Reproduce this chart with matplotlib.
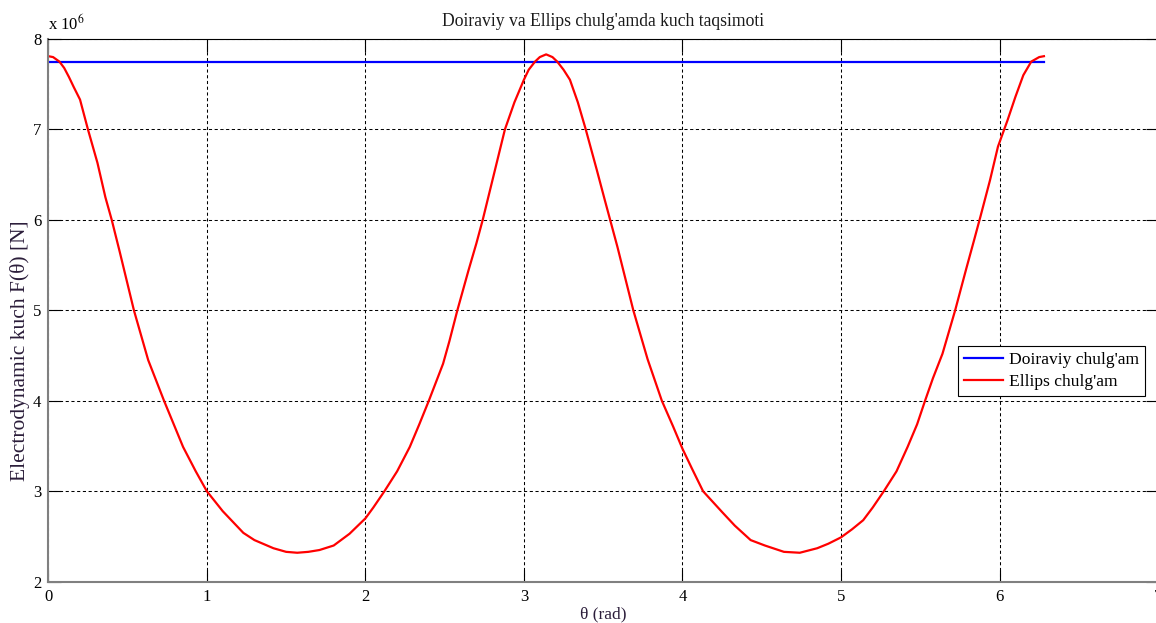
import numpy as np
import matplotlib
matplotlib.use('Agg')
import matplotlib.pyplot as plt

plt.rcParams['font.family'] = ['Liberation Serif', 'DejaVu Serif']
plt.rcParams['mathtext.fontset'] = 'stix'

# ellips chulg'am (x10^6 N)
theta_ell = [0.00, 0.03, 0.07, 0.10, 0.13, 0.16, 0.20, 0.25, 0.31, 0.36, 0.40, 0.45,
             0.54, 0.63, 0.73, 0.85, 0.93, 1.00, 1.10, 1.23, 1.30, 1.42, 1.50, 1.57,
             1.64, 1.71, 1.80, 1.90, 2.00, 2.05, 2.12, 2.20, 2.28, 2.34, 2.40, 2.49,
             2.53, 2.58, 2.65, 2.70, 2.74, 2.81, 2.88, 2.94, 3.00, 3.03, 3.07, 3.10,
             3.14, 3.18, 3.21, 3.25, 3.29, 3.34, 3.39, 3.46, 3.51, 3.59, 3.64, 3.69,
             3.78, 3.87, 3.94, 4.00, 4.06, 4.13, 4.25, 4.33, 4.43, 4.52, 4.64, 4.74,
             4.85, 4.92, 5.00, 5.07, 5.14, 5.20, 5.27, 5.35, 5.42, 5.48, 5.53, 5.58,
             5.64, 5.68, 5.72, 5.79, 5.84, 5.88, 5.94, 5.99, 6.05, 6.10, 6.15, 6.20,
             6.25, 6.28]
F_ell = [7.81, 7.80, 7.75, 7.68, 7.58, 7.47, 7.33, 7.00, 6.63, 6.25, 6.00, 5.65,
         5.00, 4.45, 4.00, 3.49, 3.22, 3.00, 2.78, 2.54, 2.46, 2.37, 2.33, 2.32,
         2.33, 2.35, 2.40, 2.53, 2.70, 2.82, 3.00, 3.22, 3.49, 3.74, 4.00, 4.41,
         4.66, 5.00, 5.44, 5.74, 6.00, 6.50, 7.00, 7.30, 7.55, 7.66, 7.75, 7.80,
         7.83, 7.80, 7.75, 7.66, 7.55, 7.30, 7.00, 6.55, 6.22, 5.70, 5.35, 5.00,
         4.46, 4.00, 3.72, 3.47, 3.25, 3.00, 2.77, 2.62, 2.46, 2.40, 2.33, 2.32,
         2.37, 2.42, 2.49, 2.58, 2.68, 2.82, 3.00, 3.22, 3.49, 3.74, 4.00, 4.25,
         4.52, 4.76, 5.00, 5.46, 5.78, 6.04, 6.44, 6.81, 7.10, 7.36, 7.60, 7.75,
         7.80, 7.81]

# doiraviy chulg'am - constant
theta_doi = [0.0, 6.28]
F_doi = [7.745, 7.745]

fig = plt.figure(figsize=(11.56, 6.23), dpi=100)
ax = fig.add_axes([0.0418, 0.0663, 0.96, 0.8711])

ax.plot(theta_doi, np.array(F_doi) * 1e6, color='#0000ff', lw=1.6, label="Doiraviy chulg'am")
ax.plot(theta_ell, np.array(F_ell) * 1e6, color='#ff0000', lw=1.6,
        solid_joinstyle='round', label="Ellips chulg'am")

ax.set_xlim(0, 7)
ax.set_ylim(2e6, 8e6)
ax.set_xticks(range(0, 8))
ax.set_yticks(np.arange(2e6, 8.1e6, 1e6))
ax.set_yticklabels([str(v) for v in range(2, 9)])

ax.grid(True, color='black', linestyle=(0, (3, 2.5)), linewidth=0.75)
ax.tick_params(direction='in', length=9, width=0.8, top=True, right=True,
               labelsize=12, pad=5)
for s in ['left', 'bottom']:
    ax.spines[s].set_color('#808080')
    ax.spines[s].set_linewidth(1.5)
ax.spines['top'].set_color('black')
ax.spines['top'].set_linewidth(0.8)

ax.set_title("Doiraviy va Ellips chulg'amda kuch taqsimoti", fontsize=12.7,
             color='#1a1a1a', pad=9)
ax.set_xlabel('θ (rad)', fontsize=12.5, color='#2b1d3a', labelpad=1)
ax.set_ylabel('Electrodynamic kuch F(θ) [N]', fontsize=15.5, color='#2b1d3a')
ax.yaxis.set_label_coords(-0.0165, 0.425)
ax.text(0.0, 1.01, r'x 10$^{6}$', transform=ax.transAxes, fontsize=12,
        ha='left', va='bottom')

leg = ax.legend(loc='upper left', bbox_to_anchor=(0.8198, 0.4346), borderaxespad=0,
                fancybox=False, edgecolor='black', framealpha=1, fontsize=12.6,
                handlelength=2.2, handletextpad=0.35, labelspacing=0.3,
                borderpad=0.35)
leg.get_frame().set_linewidth(0.8)

fig.savefig('out.png', dpi=100)
